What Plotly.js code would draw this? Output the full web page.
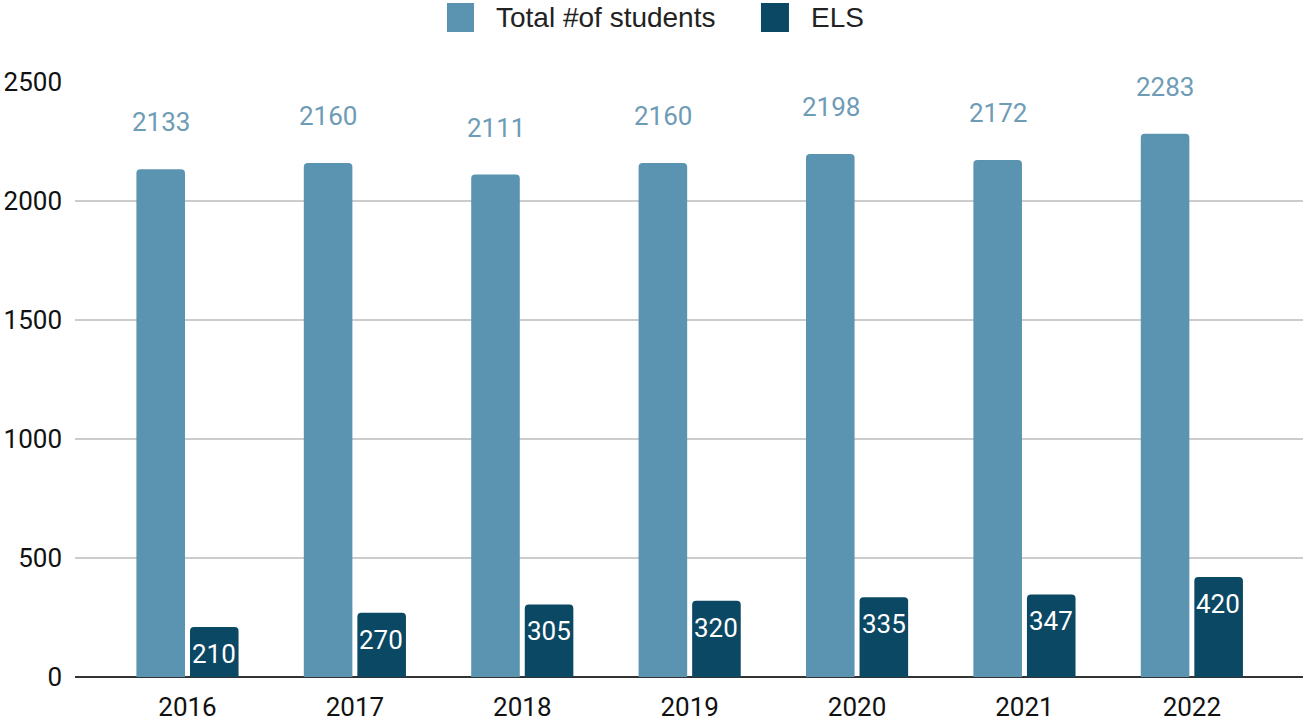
<!DOCTYPE html>
<html>
<head>
<meta charset="utf-8">
<script src="https://cdn.plot.ly/plotly-3.0.1.min.js"></script>
<style>html,body{margin:0;padding:0;background:#fff;}#chart{width:1306px;height:723px;}</style>
</head>
<body>
<div id="chart"></div>
<script>
const years = ["2016", "2017", "2018", "2019", "2020", "2021", "2022"];
const totalStudents = [2133, 2160, 2111, 2160, 2198, 2172, 2283];
const elsStudents = [210, 270, 305, 320, 335, 347, 420];
const seriesNames = ["Total #of students", "ELS"];
const yTicks = [0, 500, 1000, 1500, 2000, 2500];

const colTotal = "#5b94b1";
const colEls = "#0b4864";
const colTotalLabel = "#6e9cb6";

const traces = [
  {type: "bar", name: seriesNames[0], x: years, y: totalStudents, marker: {color: colTotal}, hoverinfo: "skip"},
  {type: "bar", name: seriesNames[1], x: years, y: elsStudents, marker: {color: colEls}, hoverinfo: "skip"}
];

const annotations = [];
years.forEach((yr, i) => {
  // category axis: use the category index as the annotation position
  annotations.push({x: i, y: totalStudents[i], xref: "x", yref: "y", text: String(totalStudents[i]),
    showarrow: false, xshift: -26.5, yshift: 47, yanchor: "middle",
    font: {family: "Roboto", size: 26, color: colTotalLabel}});
  annotations.push({x: i, y: elsStudents[i], xref: "x", yref: "y", text: String(elsStudents[i]),
    showarrow: false, xshift: 26.5, yshift: -27, yanchor: "middle",
    font: {family: "Roboto", size: 26, color: "#ffffff"}});
});

// manual legend
const legendItems = [
  {name: seriesNames[0], color: colTotal, x0: 0.3029, x1: 0.3249, tx: 0.3412},
  {name: seriesNames[1], color: colEls, x0: 0.5586, x1: 0.5814, tx: 0.5977}
];
const shapes = [];
legendItems.forEach(it => {
  shapes.push({type: "rect", xref: "paper", yref: "paper", x0: it.x0, x1: it.x1, y0: 1.084, y1: 1.1328,
    fillcolor: it.color, line: {width: 0}});
  annotations.push({xref: "paper", yref: "paper", x: it.tx, y: 1.1084, xanchor: "left", yanchor: "middle",
    text: it.name, showarrow: false, font: {family: "Liberation Sans, Arial", size: 28, color: "#222222"}});
});

const layout = {
  width: 1306, height: 723,
  margin: {l: 75, r: 3, t: 82, b: 46},
  paper_bgcolor: "#ffffff", plot_bgcolor: "#ffffff",
  showlegend: false,
  barmode: "group",
  bargap: 0.36,
  bargroupgap: 0.093,
  barcornerradius: 4,
  xaxis: {
    type: "category", range: [-0.672, 6.664],
    showgrid: false, zeroline: false, showline: false,
    ticks: "", ticklabelstandoff: 12,
    tickfont: {family: "Roboto", size: 26, color: "#111111"}
  },
  yaxis: {
    range: [0, 2500], tickvals: yTicks, ticktext: yTicks.map(String),
    showgrid: true, gridcolor: "#cccccc", gridwidth: 1.5,
    zeroline: true, zerolinecolor: "#333333", zerolinewidth: 2,
    showline: false, ticks: "", ticklabelstandoff: 12,
    tickfont: {family: "Roboto", size: 26, color: "#111111"}
  },
  annotations: annotations,
  shapes: shapes
};

Plotly.newPlot("chart", traces, layout, {displayModeBar: false, staticPlot: true});
</script>
</body>
</html>
